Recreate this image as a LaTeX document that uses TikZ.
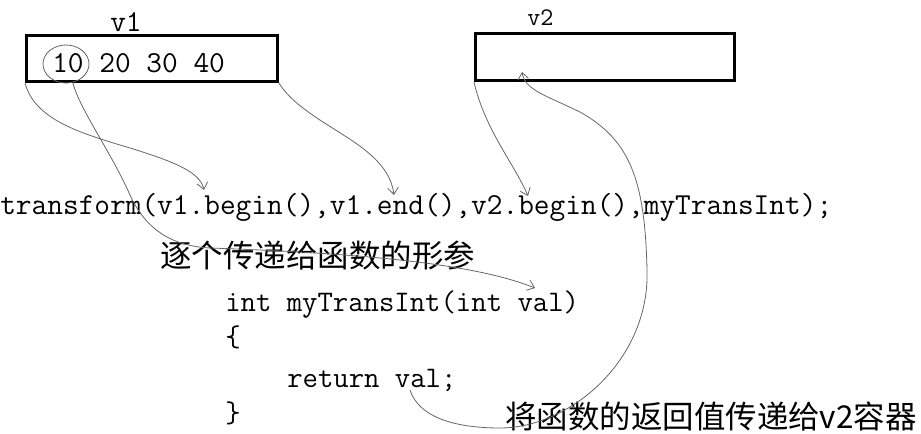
\documentclass[tikz,border=0pt]{standalone}
\usepackage{fontspec}
\newfontfamily\cjk{Noto Sans CJK SC}
\usetikzlibrary{arrows.meta,shapes.geometric}

\begin{document}
\begin{tikzpicture}[x=0.75pt,y=0.75pt,yscale=-1,xscale=1,
  box/.style={draw,line width=2.25pt,inner sep=0pt,anchor=north west},
  code/.style={inner sep=0pt,anchor=base west,font=\ttfamily\fontsize{22.86pt}{26pt}\selectfont},
  body/.style={inner sep=0pt,anchor=base west,font=\ttfamily\fontsize{22.4pt}{26pt}\selectfont},
  cjktxt/.style={inner sep=0pt,anchor=west,font=\cjk\fontsize{23.6pt}{28pt}\selectfont},
  link/.style={draw=black!60,line width=0.6pt,-{Straight Barb[length=5pt,width=8pt]}},
  ring/.style={draw=black!60,line width=0.6pt,ellipse,inner sep=0pt,minimum width=34.5pt,minimum height=28.5pt}]
\useasboundingbox (0,0) rectangle (921,434);

%Shape: Rectangle v1
\node[box,minimum width=188.25pt,minimum height=34.5pt] (v1box) at (25,34) {};
%Shape: Rectangle v2
\node[box,minimum width=194.25pt,minimum height=35.25pt] (v2box) at (474,32) {};
%Shape: Ellipse round 10
\node[ring] (ring) at (66,64) {};

% Text Node
\node[code] (v1lbl) at (110,32) {v1};
% Text Node
\node[code,font=\ttfamily\fontsize{19pt}{22pt}\selectfont] (v2lbl) at (527,26) {v2};
% Text Node
\node[code] (nums) at (52,73) {10 20 30 40};
% Text Node
\node[code] (call) at (0,215) {transform(v1.begin(),v1.end(),v2.begin(),myTransInt);};
% Text Node
\node[cjktxt] (param) at (160,256) {逐个传递给函数的形参};
% Text Node
\node[body] (sig) at (225,312) {int myTransInt(int val)};
\node[body] (lbr) at (225,347) {\{};
\node[body] (ret) at (287,388) {return val;};
\node[body] (rbr) at (225,423) {\}};
% Text Node
\node[cjktxt] (note) at (505,416) {将函数的返回值传递给v2容器};

% arrow ends
\coordinate (inBeg) at (204,190);
\coordinate (inEnd) at (394,195);
\coordinate (outBeg) at (528,196);
\coordinate (argVal) at (535,288);
\coordinate (retVal) at (410,390);
\coordinate (outIn) at (522,72);

%Curve Lines
\draw[link] (v1box.south west) .. controls (35,120) and (80,133) .. (130,148) .. controls (175,162) and (200,172) .. (inBeg);
\draw[link] (v1box.south east) .. controls (295,110) and (340,130) .. (365,150) .. controls (385,166) and (392,180) .. (inEnd);
\draw[link] (ring.-70) .. controls (80,110) and (110,150) .. (130,195) .. controls (145,228) and (170,246) .. (210,248) .. controls (350,253) and (470,262) .. (argVal);
\draw[link] (v2box.south west) .. controls (485,130) and (515,165) .. (outBeg);
\draw[link] (retVal) .. controls (418,415) and (450,428) .. (500,428) .. controls (570,428) and (650,360) .. (647,270) .. controls (645,180) and (630,140) .. (580,112) .. controls (545,95) and (525,90) .. (outIn);

\end{tikzpicture}
\end{document}
